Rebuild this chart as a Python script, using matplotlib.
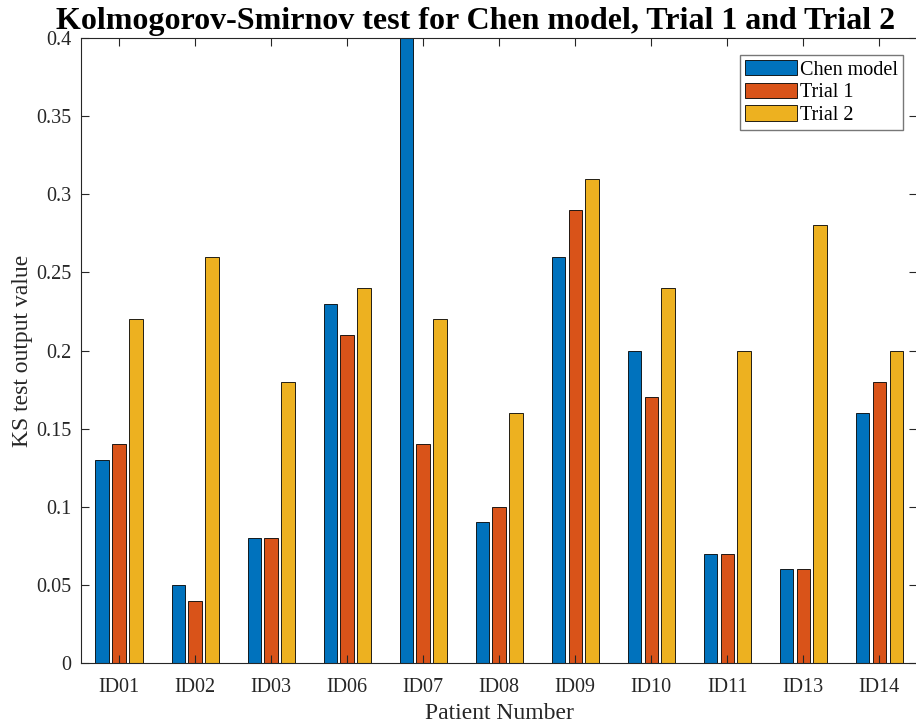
import numpy as np
import matplotlib
matplotlib.use("Agg")
import matplotlib.pyplot as plt

# KS statistics per patient
patients = ["ID01", "ID02", "ID03", "ID06", "ID07", "ID08", "ID09", "ID10", "ID11", "ID13", "ID14"]
chen_model = [0.13, 0.05, 0.08, 0.23, 0.45, 0.09, 0.26, 0.20, 0.07, 0.06, 0.16]
trial_1 = [0.14, 0.04, 0.08, 0.21, 0.14, 0.10, 0.29, 0.17, 0.07, 0.06, 0.18]
trial_2 = [0.22, 0.26, 0.18, 0.24, 0.22, 0.16, 0.31, 0.24, 0.20, 0.28, 0.20]
series_names = ["Chen model", "Trial 1", "Trial 2"]
yticks = [0, 0.05, 0.1, 0.15, 0.2, 0.25, 0.3, 0.35, 0.4]

colors = ["#0072BD", "#D95319", "#EDB120"]
ink = "#262626"

plt.rcParams["font.family"] = ["Liberation Serif", "DejaVu Serif"]

W, H = 916, 724
fig = plt.figure(figsize=(W / 100, H / 100), dpi=100)
# axes box in pixels: left 81, right 917, top 38, bottom 663
ax = fig.add_axes([81 / W, (H - 663) / H, (917.3 - 81) / W, (663 - 38) / H])

x = np.arange(1, len(patients) + 1)
width = 0.175
offset = 0.222
for k, vals in enumerate([chen_model, trial_1, trial_2]):
    ax.bar(x + (k - 1) * offset, vals, width, color=colors[k],
           edgecolor="black", linewidth=0.6, label=series_names[k], zorder=2)

ax.set_xlim(0.5, len(patients) + 0.5)
ax.set_ylim(0, 0.4)
ax.set_xticks(x)
ax.set_xticklabels(patients)
ax.set_yticks(yticks)
ax.set_yticklabels(["%g" % v for v in yticks])

ax.tick_params(direction="in", length=6, width=0.8, colors=ink, labelsize=14.5,
               top=True, right=True)
ax.tick_params(axis="x", pad=11)
ax.tick_params(axis="y", pad=7)
for s in ax.spines.values():
    s.set_color(ink)
    s.set_linewidth(0.8)
    s.set_zorder(3)
ax.set_axisbelow(False)

ax.set_xlabel("Patient Number", fontsize=17, color=ink, labelpad=4)
ax.set_ylabel("KS test output value", fontsize=17, color=ink, labelpad=2)

# title placed by its baseline, centred over the visible part of the chart
fig.text(476 / W, 1 - 29 / H, "Kolmogorov-Smirnov test for Chen model, Trial 1 and Trial 2",
         fontsize=23, fontweight="bold", color="black", ha="center", va="baseline")

leg = ax.legend(loc="upper right", bbox_to_anchor=(903 / W, (H - 55) / H),
                bbox_transform=fig.transFigure, fontsize=14.5, fancybox=False,
                edgecolor="#777777", framealpha=1, borderpad=0.25, labelspacing=0.15,
                handlelength=2.6, handleheight=0.8, handletextpad=0.15, borderaxespad=0)
leg.get_frame().set_linewidth(1.0)

fig.savefig("out.png", dpi=100)
